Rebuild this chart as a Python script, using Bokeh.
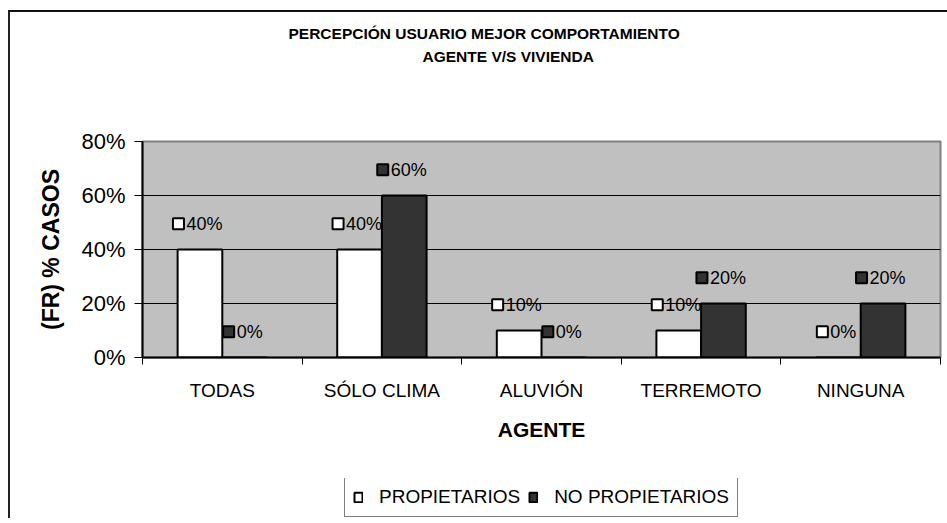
import numpy as np
from bokeh.plotting import figure
from bokeh.layouts import column
from bokeh.models import (ColumnDataSource, FixedTicker, NumeralTickFormatter, Range1d,
                          Legend, LegendItem, Title)
from bokeh.core.properties import value
from bokeh.embed import file_html
from bokeh.resources import INLINE

# ---- data ----
categories = ["TODAS", "SÓLO CLIMA", "ALUVIÓN", "TERREMOTO", "NINGUNA"]
propietarios = [0.40, 0.40, 0.10, 0.10, 0.00]
no_propietarios = [0.00, 0.60, 0.00, 0.20, 0.20]
series_names = ["PROPIETARIOS", "NO PROPIETARIOS"]
y_ticks = [0.0, 0.2, 0.4, 0.6, 0.8]
title_lines = ["PERCEPCIÓN USUARIO MEJOR COMPORTAMIENTO", "AGENTE V/S VIVIENDA"]
x_title = "AGENTE"
y_title = "(FR) % CASOS"

# ---- layout constants ----
OX, OY = 10, 12          # canvas origin after outer frame (margin + border)
BL, BR, BT, BB = 142 - OX, 7, 141 - OY, 478 - 357
FW, FH = 798, 216
TOTAL_W = BL + FW + BR
n = len(categories)
ppu = FW / n
BW = 0.28
FONT = "Liberation Sans"
DARK = "#333333"

p = figure(frame_width=FW, frame_height=FH, output_backend="svg", toolbar_location=None,
           x_range=Range1d(0, n), y_range=Range1d(0, 0.8),
           min_border_left=BL, min_border_right=BR, min_border_top=BT, min_border_bottom=BB)
p.background_fill_color = "#c0c0c0"
p.border_fill_color = "white"
p.outline_line_color = "#808080"
p.outline_line_width = 2

idx = np.arange(n)
x_prop = idx + 0.5 - BW / 2
x_nop = idx + 0.5 + BW / 2
src = ColumnDataSource(dict(x_prop=x_prop, x_nop=x_nop, prop=propietarios, nop=no_propietarios))
bar_style = [dict(fill_color="white", line_color="black", line_width=2),
             dict(fill_color=DARK, line_color="black", line_width=2)]
r1 = p.vbar(x="x_prop", top="prop", width=BW, source=src, **bar_style[0])
r2 = p.vbar(x="x_nop", top="nop", width=BW, source=src, **bar_style[1])

# ---- data labels ----
def label_source(xs, vals):
    txt = [f"{int(round(v * 100))}%" for v in vals]
    off = [-(5.5 * len(t) + 5) for t in txt]
    return ColumnDataSource(dict(
        x=xs, y=[v + 0.095 for v in vals], t=txt,
        sx=[x + o / ppu for x, o in zip(xs, off)],
        tx=[o + 8 for o in off]))

for xs, vals, fc in [(x_prop, propietarios, "white"), (x_nop, no_propietarios, DARK)]:
    ls = label_source(list(xs), vals)
    p.scatter(x="sx", y="y", marker="square", size=11, fill_color=fc, line_color="black",
              line_width=2, source=ls)
    p.text(x="x", y="y", text="t", x_offset="tx", text_font=value(FONT), text_font_size="18px",
           text_baseline="middle", text_align="left", text_color="black", source=ls)

# ---- axes ----
p.yaxis.ticker = FixedTicker(ticks=y_ticks)
p.yaxis.formatter = NumeralTickFormatter(format="0%")
p.yaxis.major_label_text_font = FONT
p.yaxis.major_label_text_font_size = "22px"
p.yaxis.major_label_text_color = "black"
p.yaxis.major_tick_out = 8
p.yaxis.major_tick_in = 0
p.yaxis.major_tick_line_color = "black"
p.yaxis.minor_tick_line_color = None
p.yaxis.axis_line_color = "black"
p.yaxis.axis_line_width = 2
p.yaxis.major_label_standoff = 9
p.yaxis.axis_label = y_title
p.yaxis.axis_label_text_font = FONT
p.yaxis.axis_label_text_font_style = "bold"
p.yaxis.axis_label_text_font_size = "23px"
p.yaxis.axis_label_text_color = "black"
p.yaxis.axis_label_standoff = 14

p.xaxis.ticker = FixedTicker(ticks=list(idx + 0.5), minor_ticks=list(range(n + 1)))
p.xaxis.major_label_overrides = {float(i + 0.5): c for i, c in enumerate(categories)}
p.xaxis.major_tick_line_color = None
p.xaxis.major_tick_out = 0
p.xaxis.major_tick_in = 0
p.xaxis.minor_tick_out = 7
p.xaxis.minor_tick_in = 0
p.xaxis.minor_tick_line_color = "black"
p.xaxis.axis_line_color = "black"
p.xaxis.axis_line_width = 2
p.xaxis.major_label_text_font = FONT
p.xaxis.major_label_text_font_size = "19px"
p.xaxis.major_label_text_color = "black"
p.xaxis.major_label_standoff = 15
p.xaxis.axis_label = x_title
p.xaxis.axis_label_text_font = FONT
p.xaxis.axis_label_text_font_style = "bold"
p.xaxis.axis_label_text_font_size = "21px"
p.xaxis.axis_label_text_color = "black"
p.xaxis.axis_label_standoff = 14

p.xgrid.grid_line_color = None
p.ygrid.ticker = FixedTicker(ticks=y_ticks[1:-1])
p.ygrid.grid_line_color = "black"
p.ygrid.grid_line_width = 1

# ---- titles: spacer nearest the plot, then line 2, then line 1 ----
tkw = dict(text_font=FONT, text_font_style="bold", text_font_size="15.5px", text_color="black")
p.add_layout(Title(text=" ", align="left", standoff=56, **tkw), "above")
p.add_layout(Title(text=title_lines[1], align="left", offset=280, standoff=4, **tkw), "above")
p.add_layout(Title(text=title_lines[0], align="left", offset=146, standoff=4, **tkw), "above")

# ---- legend strip (a second, axis-less figure under the chart; frames are aligned) ----
LH = 40
lf = figure(width=TOTAL_W, height=LH, output_backend="svg", toolbar_location=None,
            x_axis_type=None, y_axis_type=None, x_range=Range1d(0, 1), y_range=Range1d(0, 1),
            min_border_left=0, min_border_right=0, min_border_top=0, min_border_bottom=0)
lf.background_fill_color = "white"
lf.border_fill_color = "white"
lf.outline_line_color = None
lf.xgrid.visible = False
lf.ygrid.visible = False
# one tiny swatch per series, hidden behind the opaque legend box,
# only so that the legend can draw its glyph
swatch = ColumnDataSource(dict(x=[0.5], top=[0.6], bottom=[0.4]))
lr1 = lf.vbar(x="x", top="top", bottom="bottom", width=0.005, source=swatch, **bar_style[0])
lr2 = lf.vbar(x="x", top="top", bottom="bottom", width=0.005, source=swatch, **bar_style[1])
legend = Legend(items=[LegendItem(label=series_names[0], renderers=[lr1]),
                       LegendItem(label=series_names[1], renderers=[lr2])],
                orientation="horizontal", location=(344 - 142, 1), glyph_width=10, glyph_height=12,
                label_standoff=16, spacing=8, padding=8, margin=0,
                border_line_color="black", border_line_width=1,
                background_fill_color="white", background_fill_alpha=1.0,
                label_text_font=FONT, label_text_font_size="19px", label_text_color="black")
lf.add_layout(legend, "center")

layout = column(p, lf, spacing=0,
                styles={"margin-left": "8px", "margin-top": "10px",
                        "border-left": "2px solid #222222", "border-top": "2px solid #111111"})

open("out.html", "w").write(file_html(layout, INLINE))
